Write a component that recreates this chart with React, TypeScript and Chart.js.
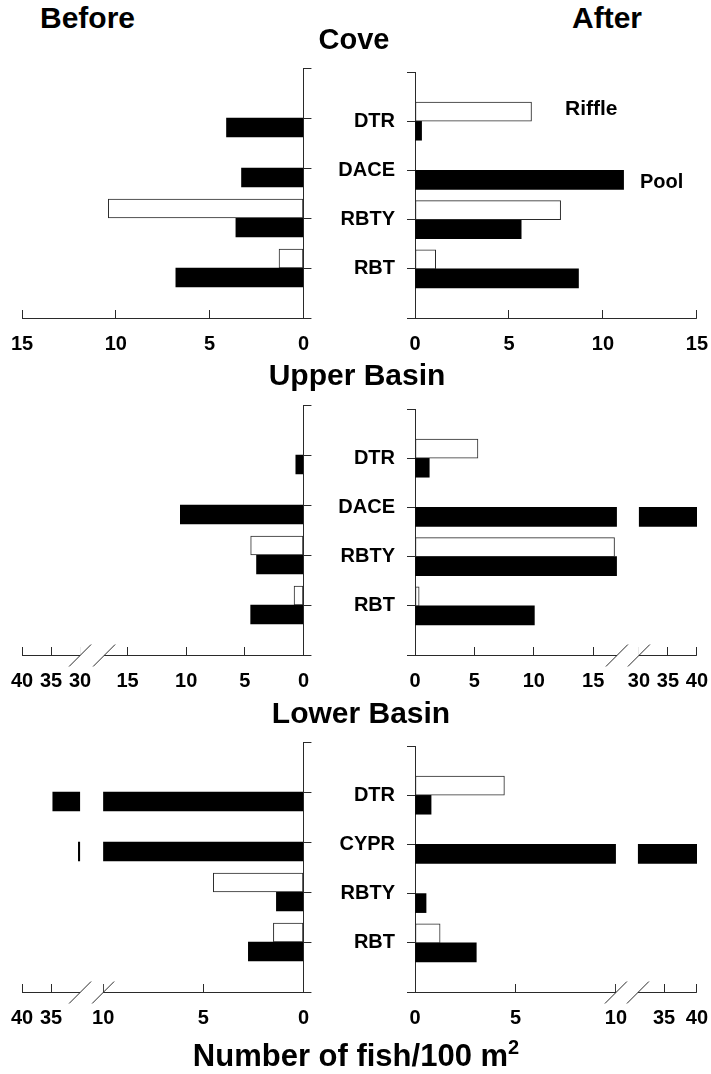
import React, { useEffect, useRef } from 'react';
import { Chart, registerables, LinearScale } from 'chart.js';

Chart.register(...registerables);

// ---------- DATA (fish per 100 m^2) ----------
const COVE_SPECIES = ['DTR', 'DACE', 'RBTY', 'RBT'];
const COVE_BEFORE_RIFFLE = [null, null, 10.4, 1.3];
const COVE_BEFORE_POOL = [4.1, 3.3, 3.6, 6.8];
const COVE_AFTER_RIFFLE = [6.2, null, 7.75, 1.1];
const COVE_AFTER_POOL = [0.35, 11.1, 5.65, 8.7];

const UPPER_SPECIES = ['DTR', 'DACE', 'RBTY', 'RBT'];
const UPPER_BEFORE_RIFFLE = [null, null, 4.5, 0.8];
const UPPER_BEFORE_POOL = [0.65, 10.5, 4.0, 4.5];
const UPPER_AFTER_RIFFLE = [5.3, null, 16.8, 0.35];
const UPPER_AFTER_POOL = [1.2, 40, 17.0, 10.05];

const LOWER_SPECIES = ['DTR', 'CYPR', 'RBTY', 'RBT'];
const LOWER_BEFORE_RIFFLE = [null, null, 4.5, 1.5];
const LOWER_BEFORE_POOL = [34.7, 30.3, 1.35, 2.75];
const LOWER_AFTER_RIFFLE = [4.45, null, null, 1.25];
const LOWER_AFTER_POOL = [0.8, 40, 0.55, 3.05];

// tick labels
const COVE_TICKS = [0, 5, 10, 15];
const UPPER_TICKS = [0, 5, 10, 15, 30, 35, 40];
const LOWER_TICKS = [0, 5, 10, 35, 40];

// axis break points (values): segment1 [k0,k1], segment2 [k2,k3]
const COVE_KNOTS = [0, 15];
const UPPER_KNOTS = [0, 17, 30, 40];
const LOWER_LEFT_KNOTS = [0, 10, 30, 40];
const LOWER_RIGHT_KNOTS = [0, 10, 31, 40];

// ---------- layout / style ----------
const FONT = '"Liberation Sans", Arial, Helvetica, sans-serif';
const LINE = '#2a2a2a';
const AXIS_FRACS = {
  cove: [0, 1],
  upperLeft: [0, 0.7082, 0.7936, 1],
  upperRight: [0, 0.7163, 0.7943, 1],
  lowerLeft: [0, 0.7117, 0.7936, 1],
  lowerRight: [0, 0.7128, 0.7908, 1],
};

// ---------- broken linear scale ----------
class BrokenScale extends LinearScale {
  static id = 'broken';
  static defaults = {};

  buildTicks() {
    const opts: any = this.options;
    const vals: number[] = opts.tickValues || [];
    const ticks = vals.map((v) => ({ value: v }));
    if (opts.reverse) {
      ticks.reverse();
      (this as any).start = this.max;
      (this as any).end = this.min;
    } else {
      (this as any).start = this.min;
      (this as any).end = this.max;
    }
    return ticks as any;
  }

  _frac(value: number) {
    const opts: any = this.options;
    const kv: number[] = opts.knotValues;
    const kf: number[] = opts.knotFracs;
    let i = 1;
    while (i < kv.length - 1 && value > kv[i]) i++;
    const v0 = kv[i - 1], v1 = kv[i], f0 = kf[i - 1], f1 = kf[i];
    return f0 + ((value - v0) / (v1 - v0)) * (f1 - f0);
  }

  getPixelForValue(value: any) {
    if (value === null || value === undefined || isNaN(value)) return NaN;
    return this.getPixelForDecimal(this._frac(value));
  }

  getValueForPixel(pixel: number) {
    const dec = this.getDecimalForPixel(pixel);
    const opts: any = this.options;
    const kv: number[] = opts.knotValues;
    const kf: number[] = opts.knotFracs;
    let i = 1;
    while (i < kf.length - 1 && dec > kf[i]) i++;
    const v0 = kv[i - 1], v1 = kv[i], f0 = kf[i - 1], f1 = kf[i];
    return v0 + ((dec - f0) / (f1 - f0)) * (v1 - v0);
  }
}
Chart.register(BrokenScale as any);

const brokenAxisPlugin = {
  id: 'brokenAxis',
  afterDatasetsDraw(chart: any) {
    const x = chart.scales.x;
    const { top, bottom } = chart.chartArea;
    const ctx = chart.ctx;
    const kv: number[] = x.options.knotValues;
    const y = Math.round(bottom) + 0.5;
    ctx.save();
    for (let i = 1; i + 1 < kv.length; i += 2) {
      const a = x.getPixelForValue(kv[i]);
      const b = x.getPixelForValue(kv[i + 1]);
      ctx.fillStyle = '#ffffff';
      ctx.fillRect(Math.min(a, b), top - 1, Math.abs(b - a), bottom - top + 1);
    }
    ctx.strokeStyle = LINE;
    ctx.lineWidth = 1;
    for (let i = 0; i + 1 < kv.length; i += 2) {
      const a = x.getPixelForValue(kv[i]);
      const b = x.getPixelForValue(kv[i + 1]);
      ctx.beginPath();
      ctx.moveTo(a, y);
      ctx.lineTo(b, y);
      ctx.stroke();
    }
    for (let i = 1; i + 1 < kv.length; i++) {
      const p = x.getPixelForValue(kv[i]);
      ctx.beginPath();
      ctx.moveTo(p - 11, y + 11);
      ctx.lineTo(p + 11, y - 11);
      ctx.stroke();
    }
    ctx.restore();
  },
};

type PanelProps = {
  side: 'left' | 'right';
  top: number;
  species: string[];
  riffle: (number | null)[];
  pool: (number | null)[];
  knots: number[];
  fracs: number[];
  ticks: number[];
};

const PAD_TOP = 20;
const PLOT_H = 250;
const XAXIS_H = 60;
// canvas frames (page px); chart area: left panels 22..303, right panels 415..697
const LEFT_FRAME = { x: -20, w: 351, padL: 42, padR: 0, yAxisW: 17 };
const RIGHT_FRAME = { x: 320, w: 410, padL: 0, padR: 33, yAxisW: 95 };

function Panel({ side, top, species, riffle, pool, knots, fracs, ticks }: PanelProps) {
  const ref = useRef<HTMLCanvasElement>(null);
  const frame = side === 'left' ? LEFT_FRAME : RIGHT_FRAME;
  const height = PAD_TOP + PLOT_H + XAXIS_H;

  useEffect(() => {
    const tickFont = { family: FONT, size: 20, weight: 'bold' as const };
    const chart = new Chart(ref.current!, {
      type: 'bar',
      data: {
        labels: ['', ...species, ''],
        datasets: [
          {
            label: 'Riffle',
            data: [null, ...riffle, null] as any,
            backgroundColor: '#ffffff',
            borderColor: LINE,
            borderWidth: 1,
            borderSkipped: false,
            barThickness: 19,
          },
          {
            label: 'Pool',
            data: [null, ...pool, null] as any,
            backgroundColor: '#000000',
            borderColor: '#000000',
            borderWidth: 0,
            barThickness: 19,
          },
        ],
      },
      options: {
        responsive: false,
        animation: false,
        devicePixelRatio: 1,
        indexAxis: 'y',
        layout: {
          padding: { left: frame.padL, right: frame.padR, top: PAD_TOP, bottom: 0 },
        },
        plugins: {
          legend: { display: false },
          tooltip: { enabled: false },
        },
        scales: {
          x: {
            type: 'broken' as any,
            min: 0,
            max: knots[knots.length - 1],
            reverse: side === 'left',
            knotValues: knots,
            knotFracs: fracs,
            tickValues: ticks,
            grid: {
              drawOnChartArea: false,
              drawTicks: true,
              tickLength: -8,
              color: LINE,
              offset: false,
            },
            border: { display: false },
            ticks: {
              autoSkip: false,
              maxRotation: 0,
              minRotation: 0,
              padding: 22,
              color: '#000',
              font: tickFont,
              callback: (v: any) => String(v),
            },
            afterFit: (s: any) => {
              s.height = XAXIS_H;
            },
          } as any,
          y: {
            type: 'category',
            offset: false,
            position: side === 'left' ? 'right' : 'left',
            grid: {
              drawOnChartArea: false,
              offset: false,
              tickLength: 8,
              color: LINE,
            },
            border: { display: true, color: LINE, width: 1 },
            ticks: {
              display: side === 'right',
              autoSkip: false,
              padding: 12,
              color: '#000',
              font: tickFont,
            },
            afterFit: (s: any) => {
              s.width = frame.yAxisW;
            },
          } as any,
        },
      },
      plugins: [brokenAxisPlugin],
    });
    return () => chart.destroy();
  }, []);

  return (
    <canvas
      ref={ref}
      width={frame.w}
      height={height}
      style={{ position: 'absolute', left: frame.x, top: top - PAD_TOP, width: frame.w, height }}
    />
  );
}

const txt = (size: number): React.CSSProperties => ({
  position: 'absolute',
  fontFamily: FONT,
  fontWeight: 'bold',
  fontSize: size,
  lineHeight: 1,
  whiteSpace: 'nowrap',
  color: '#000',
});

export default function App() {
  return (
    <div style={{ position: 'absolute', left: 0, top: 0, width: 711, height: 1074, background: '#fff', overflow: 'hidden' }}>
      <Panel side="left" top={68} species={COVE_SPECIES} riffle={COVE_BEFORE_RIFFLE} pool={COVE_BEFORE_POOL} knots={COVE_KNOTS} fracs={AXIS_FRACS.cove} ticks={COVE_TICKS} />
      <Panel side="right" top={68} species={COVE_SPECIES} riffle={COVE_AFTER_RIFFLE} pool={COVE_AFTER_POOL} knots={COVE_KNOTS} fracs={AXIS_FRACS.cove} ticks={COVE_TICKS} />
      <Panel side="left" top={405} species={UPPER_SPECIES} riffle={UPPER_BEFORE_RIFFLE} pool={UPPER_BEFORE_POOL} knots={UPPER_KNOTS} fracs={AXIS_FRACS.upperLeft} ticks={UPPER_TICKS} />
      <Panel side="right" top={405} species={UPPER_SPECIES} riffle={UPPER_AFTER_RIFFLE} pool={UPPER_AFTER_POOL} knots={UPPER_KNOTS} fracs={AXIS_FRACS.upperRight} ticks={UPPER_TICKS} />
      <Panel side="left" top={742} species={LOWER_SPECIES} riffle={LOWER_BEFORE_RIFFLE} pool={LOWER_BEFORE_POOL} knots={LOWER_LEFT_KNOTS} fracs={AXIS_FRACS.lowerLeft} ticks={LOWER_TICKS} />
      <Panel side="right" top={742} species={LOWER_SPECIES} riffle={LOWER_AFTER_RIFFLE} pool={LOWER_AFTER_POOL} knots={LOWER_RIGHT_KNOTS} fracs={AXIS_FRACS.lowerRight} ticks={LOWER_TICKS} />

      <div style={{ ...txt(30), left: 40, top: 3 }}>Before</div>
      <div style={{ ...txt(30), left: 572, top: 3 }}>After</div>
      <div style={{ ...txt(29), left: 0, width: 708, textAlign: 'center', top: 25 }}>Cove</div>
      <div style={{ ...txt(30), left: 0, width: 714, textAlign: 'center', top: 360 }}>Upper Basin</div>
      <div style={{ ...txt(30), left: 0, width: 722, textAlign: 'center', top: 698 }}>Lower Basin</div>
      <div style={{ ...txt(21), left: 565, top: 97 }}>Riffle</div>
      <div style={{ ...txt(20), left: 640, top: 171 }}>Pool</div>
      <div style={{ ...txt(31), left: 0, width: 712, textAlign: 'center', top: 1040 }}>
        Number of fish/100 m<span style={{ fontSize: 20, position: 'relative', top: -12 }}>2</span>
      </div>
    </div>
  );
}
